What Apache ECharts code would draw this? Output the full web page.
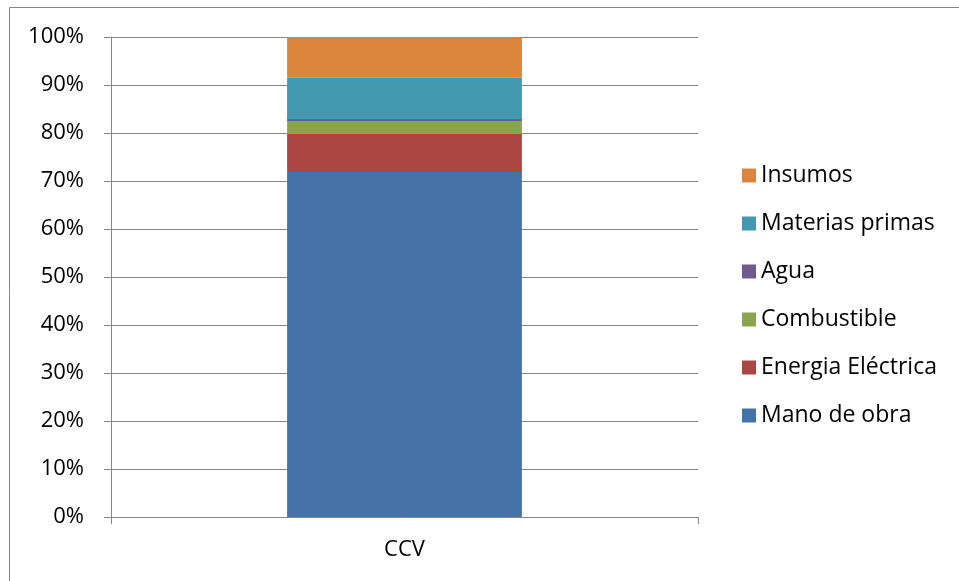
<!DOCTYPE html>
<html>
<head>
<meta charset="utf-8">
<script src="https://cdn.jsdelivr.net/npm/echarts@6/dist/echarts.min.js"></script>
<style>
  html, body { margin: 0; padding: 0; background: #fff; }
  #chart { width: 959px; height: 581px; }
</style>
</head>
<body>
<div id="chart"></div>
<script>
const categories = ["CCV"];
const seriesNames = ["Mano de obra", "Energia Eléctrica", "Combustible", "Agua", "Materias primas", "Insumos"];
const seriesValues = [[71.9], [7.9], [2.7], [0.4], [8.6], [8.5]];
const seriesColors = ["#4572A7", "#AA4643", "#89A54E", "#71588F", "#4198AF", "#DB843D"];
const yTicks = [0, 10, 20, 30, 40, 50, 60, 70, 80, 90, 100];

const font = "'Open Sans', 'Liberation Sans', sans-serif";
const chart = echarts.init(document.getElementById("chart"));

chart.setOption({
  animation: false,
  color: seriesColors,
  // chart border, right and bottom edges fall outside the picture
  graphic: [{
    type: "rect",
    shape: {x: 9.5, y: 7.5, width: 1000, height: 1000},
    style: {fill: "none", stroke: "#868686", lineWidth: 1},
    silent: true
  }],
  grid: {left: 111, right: 261, top: 37, bottom: 64, containLabel: false},
  legend: {
    data: seriesNames.slice().reverse(),
    orient: "vertical",
    left: 742,
    top: 164,
    padding: 0,
    itemWidth: 14,
    itemHeight: 14,
    itemGap: 25,
    itemTextGap: 6,
    icon: "rect",
    textStyle: {fontFamily: font, fontSize: 23, lineHeight: 20, color: "#000"}
  },
  xAxis: {
    type: "category",
    data: categories,
    axisLine: {lineStyle: {color: "#868686"}},
    axisTick: {show: true, length: 7, lineStyle: {color: "#868686"}},
    axisLabel: {fontFamily: font, fontSize: 22, color: "#000", margin: 22}
  },
  yAxis: {
    type: "value",
    min: 0,
    max: 100,
    interval: 10,
    axisLine: {show: true, lineStyle: {color: "#868686"}},
    axisTick: {show: true, length: 7, lineStyle: {color: "#868686"}},
    splitLine: {lineStyle: {color: "#868686"}},
    axisLabel: {
      fontFamily: font, fontSize: 22, color: "#000", margin: 27,
      formatter: v => yTicks.includes(v) ? v + "%" : ""
    }
  },
  series: seriesNames.map((name, i) => ({
    name: name,
    type: "bar",
    stack: "total",
    barWidth: "40%",
    data: seriesValues[i]
  }))
});
</script>
</body>
</html>
